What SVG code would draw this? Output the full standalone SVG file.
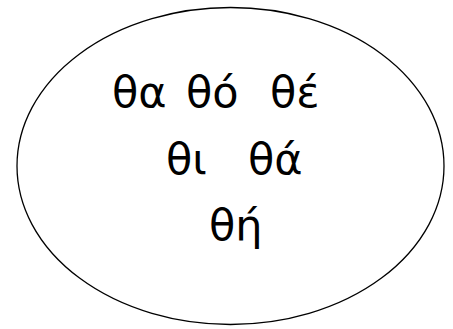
<svg xmlns="http://www.w3.org/2000/svg" width="453" height="329" viewBox="0 0 453 329">
<style>
.t{font-family:"DejaVu Sans",sans-serif;font-size:43px;fill:#000}
</style>
<rect width="453" height="329" fill="#fff"/>
<g id="set">
<ellipse cx="230.5" cy="166" rx="213.5" ry="158.5" fill="none" stroke="#000" stroke-width="1.3"/>
<text class="t" x="112" y="107">θα</text>
<text class="t" x="186" y="107">θό</text>
<text class="t" x="270" y="107">θέ</text>
<text class="t" x="166" y="174">θι</text>
<text class="t" x="248" y="174">θά</text>
<text class="t" x="209" y="240">θή</text>
</g>
</svg>
